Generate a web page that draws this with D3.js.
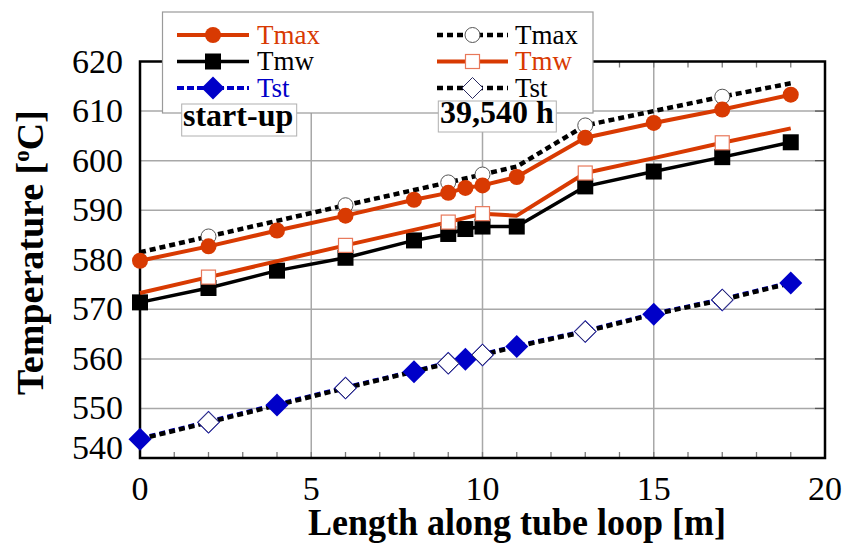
<!DOCTYPE html>
<html>
<head>
<meta charset="utf-8">
<script src="https://cdn.jsdelivr.net/npm/d3@7"></script>
<style>
  html, body { margin: 0; padding: 0; background: #fff; }
  svg { display: block; }
</style>
</head>
<body>
<svg id="chart" width="846" height="544"></svg>
<script>
// Start-up condition, measured along the tube loop [m]
const lengthStartup = [0, 2, 4, 6, 8, 9, 9.5, 10, 11, 13, 15, 17, 19];
const tmaxStartup = [579.8, 582.7, 585.9, 588.9, 592.1, 593.5, 594.5, 595.0, 596.7, 604.6, 607.6, 610.3, 613.3];
const tmwStartup  = [571.4, 574.3, 577.8, 580.4, 583.9, 585.2, 586.2, 586.7, 586.7, 594.8, 597.8, 600.7, 603.7];
const tstStartup  = [543.8, 547.2, 550.7, 554.1, 557.4, 559.1, 559.9, 560.8, 562.5, 565.5, 569.0, 571.9, 575.3];

// After 39,540 h of operation
const lengthAged = [0, 2, 6, 9, 10, 11, 13, 15, 17, 19];
const tmaxAged = [581.5, 584.7, 591.0, 595.6, 597.2, 598.8, 607.1, 610.0, 612.9, 615.6];
const tmwAged  = [573.3, 576.5, 582.9, 587.6, 589.3, 588.9, 597.5, 600.5, 603.6, 606.5];
const tstAged  = [543.8, 547.2, 554.1, 559.1, 560.8, 562.5, 565.5, 569.0, 571.9, 575.3];
const markedLengthsAged = [2, 6, 9, 10, 13, 17];

const xTicks = [0, 5, 10, 15, 20];
const xMinorTicks = d3.range(1, 20);
const yTicks = [540, 550, 560, 570, 580, 590, 600, 610, 620];

const xTitle = "Length along tube loop [m]";
const yTitle = "Temperature [";
const legendLeft = ["Tmax", "Tmw", "Tst"];
const legendRight = ["Tmax", "Tmw", "Tst"];
const labelStartup = "start-up";
const labelAged = "39,540 h";

const RED = "#d83a02";
const BLUE = "#0000c8";
const SERIF = "'Liberation Serif', 'Times New Roman', serif";

const svg = d3.select("#chart");
const x = d3.scaleLinear().domain([0, 20]).range([140, 825]);
const y = d3.scaleLinear().domain([540, 620]).range([458, 61.5]);

// grid
const grid = svg.append("g");
grid.selectAll(".gx").data(xTicks.slice(1, -1)).join("line")
  .attr("x1", d => x(d)).attr("x2", d => x(d))
  .attr("y1", y(540)).attr("y2", y(620))
  .attr("stroke", "#a8a8a8").attr("stroke-width", 1.5);
grid.selectAll(".gy").data(yTicks.slice(1, -1)).join("line")
  .attr("x1", x(0)).attr("x2", x(20))
  .attr("y1", d => y(d)).attr("y2", d => y(d))
  .attr("stroke", "#a8a8a8").attr("stroke-width", 1.5);

// minor ticks on bottom and top
const ticks = svg.append("g").attr("stroke", "#7a7a7a").attr("stroke-width", 1.3);
ticks.selectAll(".tb").data(xMinorTicks).join("line")
  .attr("x1", d => x(d)).attr("x2", d => x(d))
  .attr("y1", y(540)).attr("y2", y(540) - 6);
ticks.selectAll(".tt").data(xMinorTicks).join("line")
  .attr("x1", d => x(d)).attr("x2", d => x(d))
  .attr("y1", y(620)).attr("y2", y(620) + 6);
ticks.selectAll(".tr").data(yTicks.slice(1, -1)).join("line")
  .attr("x1", x(20) - 10).attr("x2", x(20))
  .attr("y1", d => y(d)).attr("y2", d => y(d)).attr("stroke", "#555");

// frame
svg.append("rect")
  .attr("x", x(0)).attr("y", y(620))
  .attr("width", x(20) - x(0)).attr("height", y(540) - y(620))
  .attr("fill", "none").attr("stroke", "#000").attr("stroke-width", 2.5);

// tick labels
svg.append("g").selectAll("text").data(xTicks).join("text")
  .attr("x", d => x(d)).attr("y", 500)
  .attr("text-anchor", "middle")
  .attr("font-family", SERIF).attr("font-size", 34)
  .text(d => d);
svg.append("g").selectAll("text").data(yTicks).join("text")
  .attr("x", 123).attr("y", d => y(d) + 11 - (d === 540 ? 10 : 0))
  .attr("text-anchor", "end")
  .attr("font-family", SERIF).attr("font-size", 34)
  .text(d => d);

// axis titles
svg.append("text")
  .attr("x", 308).attr("y", 535)
  .attr("font-family", SERIF).attr("font-weight", "bold").attr("font-size", 37)
  .attr("textLength", 418).attr("lengthAdjust", "spacingAndGlyphs")
  .text(xTitle);
const yt = svg.append("text")
  .attr("transform", `translate(43,395) rotate(-90)`)
  .attr("text-anchor", "start")
  .attr("font-family", SERIF).attr("font-weight", "bold").attr("font-size", 38);
yt.append("tspan").text(yTitle);
yt.append("tspan").attr("font-size", 23).attr("dy", -14).text("o");
yt.append("tspan").attr("dy", 14).text("C]");

// marker helpers
function marker(sel, kind) {
  if (kind === "circle") sel.append("circle").attr("r", 8).attr("fill", RED);
  if (kind === "ocircle") sel.append("circle").attr("r", 7.5).attr("fill", "#fff").attr("stroke", "#555").attr("stroke-width", 1);
  if (kind === "square") sel.append("rect").attr("x", -8).attr("y", -8).attr("width", 16).attr("height", 16).attr("fill", "#000");
  if (kind === "osquare") sel.append("rect").attr("x", -7).attr("y", -7).attr("width", 14).attr("height", 14).attr("fill", "#fff").attr("stroke", "#e8785a").attr("stroke-width", 1.2);
  if (kind === "diamond") sel.append("path").attr("d", "M0,-11.5L11.5,0L0,11.5L-11.5,0Z").attr("fill", BLUE);
  if (kind === "odiamond") sel.append("path").attr("d", "M0,-10.5L10.5,0L0,10.5L-10.5,0Z").attr("fill", "#fff").attr("stroke", "#2a2a60").attr("stroke-width", 1);
}

const styles = {
  redSolid: { stroke: RED, width: 4, dash: null },
  blackSolid: { stroke: "#000", width: 3.5, dash: null },
  blueDash: { stroke: BLUE, width: 4, dash: "7,3" },
  blueUnder: { stroke: BLUE, width: 3.5, dash: "6,4" },
  blackDot: { stroke: "#000", width: 4.5, dash: "6,4" }
};

const line = d3.line().x(d => x(d[0])).y(d => y(d[1]));
const plot = svg.append("g");

function drawLine(xs, ys, style, dy) {
  const pts = xs.map((v, i) => [v, ys[i]]);
  const st = styles[style];
  plot.append("path").datum(pts).attr("d", line)
    .attr("transform", dy ? `translate(0,${dy})` : null)
    .attr("fill", "none").attr("stroke", st.stroke).attr("stroke-width", st.width)
    .attr("stroke-dasharray", st.dash).attr("stroke-linejoin", "round");
  return pts;
}

function drawMarkers(pts, kind, marked) {
  const mpts = marked ? pts.filter(p => marked.includes(p[0])) : pts;
  plot.selectAll(null).data(mpts).join("g")
    .attr("transform", d => `translate(${x(d[0])},${y(d[1])})`)
    .each(function () { marker(d3.select(this), kind); });
}

// steam temperature: blue dashed just beneath the black dotted line
const tstS = drawLine(lengthStartup, tstStartup, "blueUnder", -1);
const tstA = drawLine(lengthAged, tstAged, "blackDot");
drawMarkers(tstS, "diamond", null);
drawMarkers(tstA, "odiamond", markedLengthsAged);

// mid-wall temperature
drawMarkers(drawLine(lengthStartup, tmwStartup, "blackSolid"), "square", null);
drawMarkers(drawLine(lengthAged, tmwAged, "redSolid"), "osquare", markedLengthsAged);

// maximum temperature
drawMarkers(drawLine(lengthAged, tmaxAged, "blackDot"), "ocircle", markedLengthsAged);
drawMarkers(drawLine(lengthStartup, tmaxStartup, "redSolid"), "circle", null);

// legend
const lg = svg.append("g");
lg.append("rect").attr("x", 162.5).attr("y", 12).attr("width", 430.5).attr("height", 101)
  .attr("fill", "#fff").attr("stroke", "#9a9a9a").attr("stroke-width", 1.2);
const rowsY = [35, 61.5, 88];
const leftEntries = [
  { style: "redSolid", kind: "circle", color: RED },
  { style: "blackSolid", kind: "square", color: "#000" },
  { style: "blueDash", kind: "diamond", color: BLUE }
];
const rightEntries = [
  { style: "blackDot", kind: "ocircle", color: "#000" },
  { style: "redSolid", kind: "osquare", color: RED },
  { style: "blackDot", kind: "odiamond", color: "#000" }
];
function legendColumn(entries, names, x0, x1, tx) {
  entries.forEach((e, i) => {
    const st = styles[e.style];
    const yy = rowsY[i];
    lg.append("line").attr("x1", x0).attr("x2", x1).attr("y1", yy).attr("y2", yy)
      .attr("stroke", st.stroke).attr("stroke-width", st.width).attr("stroke-dasharray", st.dash);
    const m = lg.append("g").attr("transform", `translate(${(x0 + x1) / 2},${yy})`);
    marker(m, e.kind);
    lg.append("text").attr("x", tx).attr("y", yy + 8.5)
      .attr("font-family", SERIF).attr("font-size", 27).attr("fill", e.color)
      .text(names[i]);
  });
}
legendColumn(leftEntries, legendLeft, 177, 249, 257);
legendColumn(rightEntries, legendRight, 437, 508, 515);

// condition labels
function boxLabel(txt, bx, bw, by, bh, tx, ty) {
  svg.append("rect").attr("x", bx).attr("y", by).attr("width", bw).attr("height", bh)
    .attr("fill", "#fff").attr("stroke", "#b0b0b0").attr("stroke-width", 1);
  svg.append("text").attr("x", tx).attr("y", ty)
    .attr("font-family", SERIF).attr("font-weight", "bold").attr("font-size", 32)
    .text(txt);
}
boxLabel(labelStartup, 181.7, 115, 104, 32, 183, 126);
boxLabel(labelAged, 438.3, 118, 101, 31, 440, 123);
</script>
</body>
</html>
